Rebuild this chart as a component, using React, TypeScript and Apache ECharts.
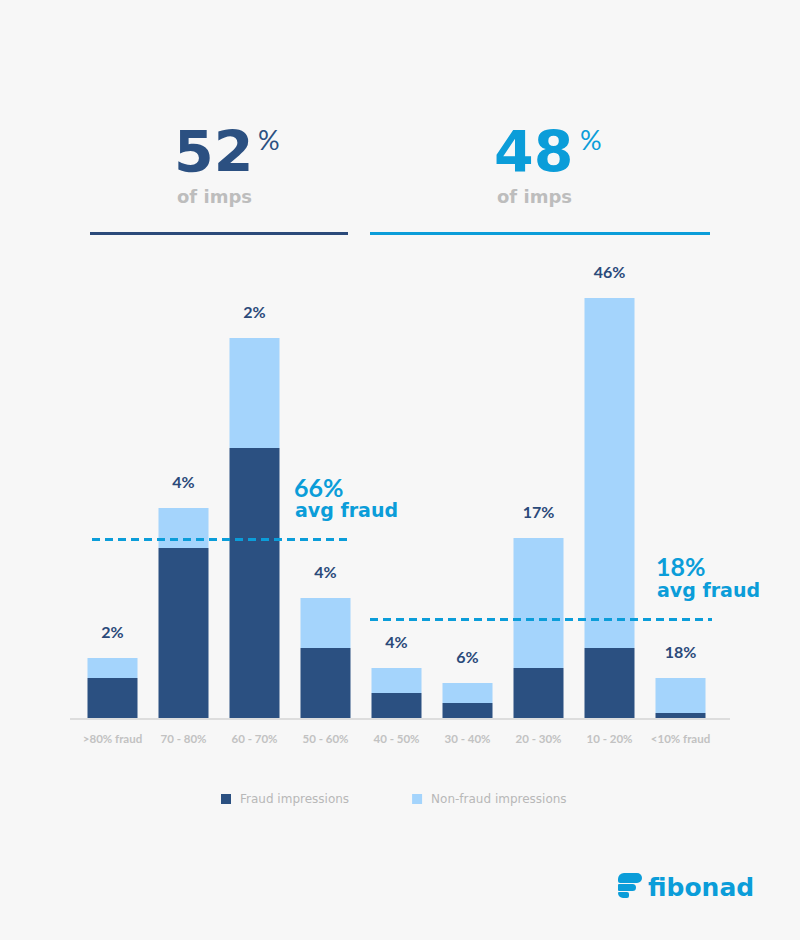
import React, { useEffect, useRef } from "react";
import * as echarts from "echarts";

const categories = [">80% fraud", "70 - 80%", "60 - 70%", "50 - 60%", "40 - 50%", "30 - 40%", "20 - 30%", "10 - 20%", "<10% fraud"];
const fraudValues = [40, 170, 270, 70, 25, 15, 50, 70, 5];
const nonFraudValues = [20, 40, 110, 50, 25, 20, 130, 350, 35];
const barLabels = ["2%", "4%", "2%", "4%", "4%", "6%", "17%", "46%", "18%"];
const groupShares = ["52", "48"];
const avgFraud = ["66%", "18%"];

const DARK = "#2b5081";
const LIGHT = "#a4d4fc";
const CYAN = "#0b9dd9";
const GREY = "#bdbdbd";

const txt = (x: number, y: number, text: string, fill: string, font: string, lineHeight?: number) => ({
  type: "text",
  x,
  y,
  z: 100,
  style: { text, fill, font, lineHeight, align: "left", verticalAlign: "middle", textAlign: "left", textVerticalAlign: "middle" },
});

export default function App() {
  const ref = useRef<HTMLDivElement>(null);
  useEffect(() => {
    if (!ref.current) return;
    const chart = echarts.init(ref.current, null, { renderer: "svg" });
    chart.setOption({
      animation: false,
      backgroundColor: "#f7f7f7",
      grid: { left: 77, right: 84, top: 218, bottom: 222 },
      legend: {
        left: 221,
        top: 793,
        padding: 0,
        itemWidth: 10,
        itemHeight: 10,
        itemGap: 63,
        icon: "rect",
        textStyle: { color: "#b8b8b8", fontSize: 12, fontFamily: "DejaVu Sans", padding: [0, 0, 0, 4] },
        data: ["Fraud impressions", "Non-fraud impressions"],
      },
      xAxis: {
        type: "category",
        data: categories,
        axisLine: { show: false },
        axisTick: { show: false },
        axisLabel: { color: "#c2c2c2", fontSize: 11.5, fontWeight: "bold", fontFamily: "Lato", margin: 14, interval: 0 },
      },
      yAxis: { type: "value", min: 0, max: 500, show: false, splitLine: { show: false } },
      series: [
        {
          name: "Fraud impressions",
          type: "bar",
          stack: "s",
          barWidth: 50,
          itemStyle: { color: DARK },
          data: fraudValues,
        },
        {
          name: "Non-fraud impressions",
          type: "bar",
          stack: "s",
          barWidth: 50,
          itemStyle: { color: LIGHT },
          data: nonFraudValues,
          label: {
            show: true,
            position: "top",
            distance: 19,
            color: "#2b4a7a",
            fontSize: 16,
            fontWeight: "bold",
            fontFamily: "Lato",
            formatter: (p: any) => barLabels[p.dataIndex],
          },
        },
      ],
      graphic: [
        txt(174, 152, groupShares[0], DARK, "bold 57px 'DejaVu Sans'", 44),
        txt(258, 139, "%", DARK, "normal 27px Lato", 24),
        txt(177, 196, "of imps", GREY, "bold 18px 'DejaVu Sans'", 16),
        txt(494, 152, groupShares[1], CYAN, "bold 57px 'DejaVu Sans'", 44),
        txt(580, 139, "%", CYAN, "normal 27px Lato", 24),
        txt(497, 196, "of imps", GREY, "bold 18px 'DejaVu Sans'", 16),
        { type: "line", z: 100, shape: { x1: 90, y1: 233.5, x2: 348, y2: 233.5 }, style: { stroke: "#2b4a7a", lineWidth: 3 } },
        { type: "line", z: 100, shape: { x1: 370, y1: 233.5, x2: 710, y2: 233.5 }, style: { stroke: CYAN, lineWidth: 3 } },
        { type: "line", z: 100, shape: { x1: 70, y1: 719, x2: 730, y2: 719 }, style: { stroke: "#dddddd", lineWidth: 2 } },
        { type: "line", z: 100, shape: { x1: 92, y1: 539.5, x2: 348, y2: 539.5 }, style: { stroke: CYAN, lineWidth: 3, lineDash: [8, 5] } },
        { type: "line", z: 100, shape: { x1: 370, y1: 619.5, x2: 712, y2: 619.5 }, style: { stroke: CYAN, lineWidth: 3, lineDash: [8, 5] } },
        txt(294, 487, avgFraud[0], CYAN, "bold 25px Lato"),
        txt(295, 510, "avg fraud", CYAN, "bold 19px 'DejaVu Sans'"),
        txt(656, 566, avgFraud[1], CYAN, "bold 25px Lato"),
        txt(657, 590, "avg fraud", CYAN, "bold 19px 'DejaVu Sans'"),
        // logo
        { type: "rect", z: 100, shape: { x: 618, y: 873, width: 24, height: 10, r: [6, 5, 5, 2] }, style: { fill: CYAN } },
        { type: "rect", z: 100, shape: { x: 618, y: 884, width: 18, height: 7, r: [1, 3.5, 3.5, 1] }, style: { fill: CYAN } },
        { type: "rect", z: 100, shape: { x: 618, y: 892, width: 11, height: 6, r: [1, 2, 2, 5] }, style: { fill: CYAN } },
        txt(648, 887, "fibonad", CYAN, "bold 25px 'DejaVu Sans'"),
      ],
    });
    return () => chart.dispose();
  }, []);
  return <div ref={ref} style={{ position: "fixed", left: 0, top: 0, width: 800, height: 940 }} />;
}
